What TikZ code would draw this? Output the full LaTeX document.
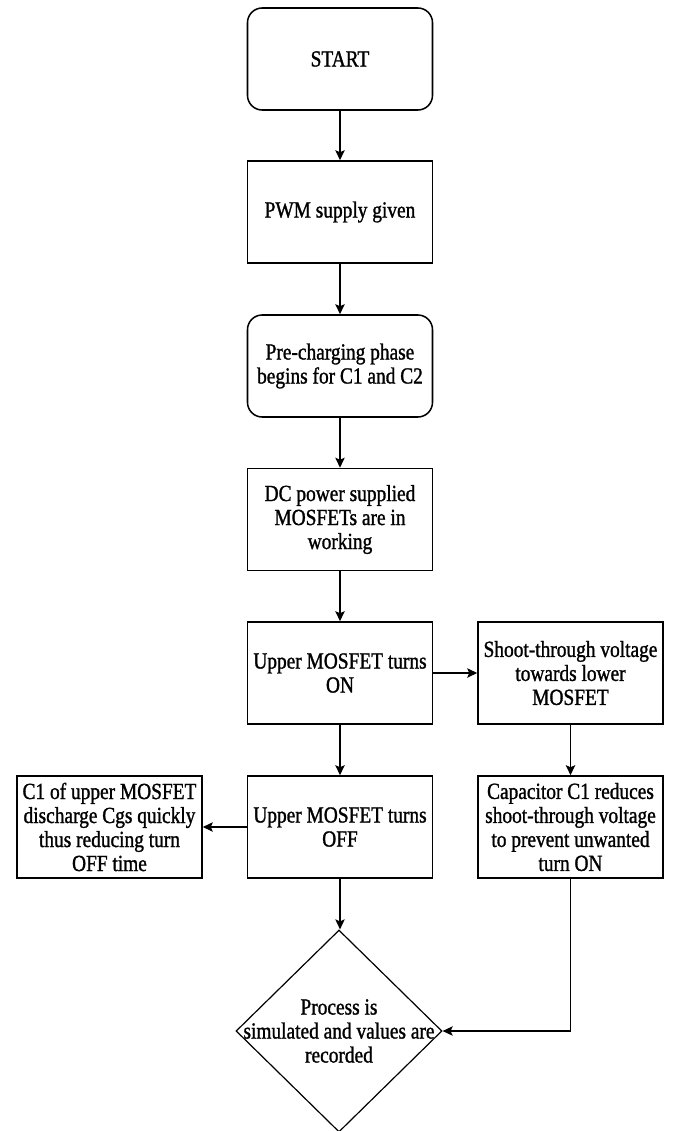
\documentclass[tikz,border=0pt]{standalone}
\usepackage{fontspec}
\setmainfont{Liberation Serif}[FakeStretch=0.84,FakeBold=1.2]
\usetikzlibrary{shapes.geometric,arrows.meta}
\begin{document}
\begin{tikzpicture}[x=0.75pt,y=-0.75pt,
  font=\fontsize{17.3}{18}\selectfont,
  box/.style={draw, line width=1.15pt, minimum width=138.75pt, minimum height=76.5pt, align=center, inner sep=0pt},
  rbox/.style={box, rounded corners=11pt},
  arr/.style={-{Stealth[length=7.5pt,width=7pt,inset=1.5pt]}, line width=1.15pt}]
\useasboundingbox (0,0) rectangle (673,1131);
\node[rbox] (start) at (340,59) {START};
\node[box] (pwm) at (340,212) {PWM supply given};
\node[rbox] (pre) at (340,366) {Pre-charging phase\\begins for C1 and C2};
\node[box] (dc) at (340,519.5) {DC power supplied\\MOSFETs are in\\working};
\node[box] (on) at (340,673) {Upper MOSFET turns\\ON};
\node[box] (shoot) at (570.5,673) {Shoot-through voltage\\towards lower\\MOSFET};
\node[box] (off) at (340,827) {Upper MOSFET turns\\OFF};
\node[box] (cap) at (570.5,827) {Capacitor C1 reduces\\shoot-through voltage\\to prevent unwanted\\turn ON};
\node[box] (c1) at (109.5,827) {C1 of upper MOSFET\\discharge Cgs quickly\\thus reducing turn\\OFF time};
\node[draw, diamond, line width=0.9pt, minimum width=154.5pt, minimum height=151.5pt, inner sep=0pt] (proc) at (339,1031) {};
\node[align=center] (proctext) at (proc.center) {Process is\\simulated and values are\\recorded};
\draw[arr] (start.south) -- (pwm.north);
\draw[arr] (pwm.south) -- (pre.north);
\draw[arr] (pre.south) -- (dc.north);
\draw[arr] (dc.south) -- (on.north);
\draw[arr] (on.east) -- (shoot.west);
\draw[arr] (on.south) -- (off.north);
\draw[arr] (shoot.south) -- (cap.north);
\draw[arr] (off.west) -- (c1.east);
\draw[arr] (off.south) -- (off.south |- proc.north);
\draw[arr] (cap.south) |- (proc.east);
\end{tikzpicture}
\end{document}
